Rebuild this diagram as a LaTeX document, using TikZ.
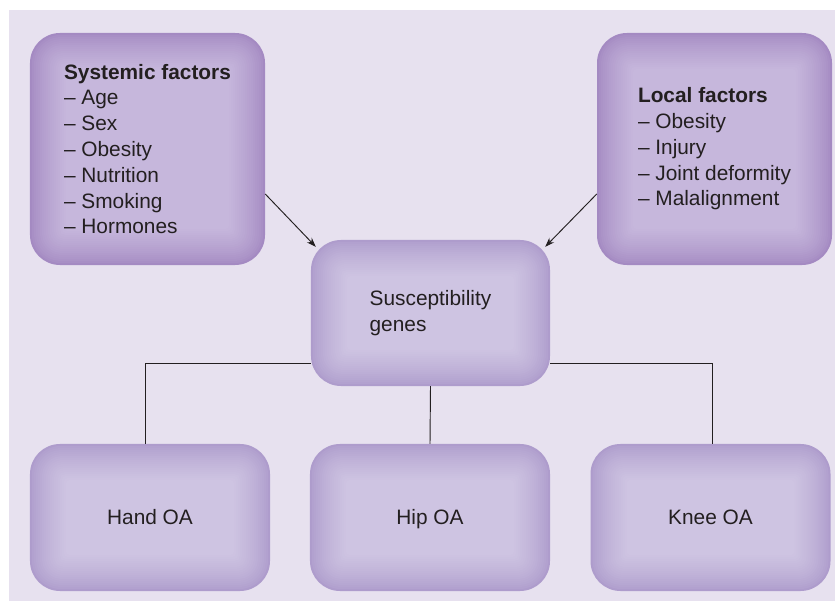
\documentclass[tikz,border=0pt]{standalone}
\usepackage{xcolor}
\usepackage{fontspec}
\setmainfont{Liberation Sans}
\usetikzlibrary{arrows.meta}

\definecolor{bgcol}{HTML}{E7E1EF}
\definecolor{darkin}{HTML}{C6B7DC}
\definecolor{darkout}{HTML}{A48AC2}
\definecolor{lightin}{HTML}{CEC4E2}
\definecolor{lightout}{HTML}{AE9CCC}
\definecolor{inkcol}{HTML}{231F20}

\begin{document}
\begin{tikzpicture}[x=0.03cm, y=-0.03cm,
    glow/.style 2 args={fill=#2, path picture={
      \foreach \k in {1,...,18}{
        \pgfmathsetmacro\mix{100*(\k/18)^0.75}
        \pgfmathsetmacro\rad{max(0.1,0.9-\k*0.05)}
        \fill[#1!\mix!#2, rounded corners=\rad cm]
          ([shift={(\k*0.06cm,\k*0.06cm)}]path picture bounding box.south west) rectangle
          ([shift={(-\k*0.06cm,-\k*0.06cm)}]path picture bounding box.north east);
      }}},
    box/.style={rounded corners=0.9cm, align=left, text=inkcol,
      font=\fontsize{17.8}{22}\selectfont},
    factorbox/.style={box, glow={darkin}{darkout}, minimum width=7.05cm, minimum height=6.96cm},
    oabox/.style={box, glow={lightin}{lightout}, minimum width=7.2cm, minimum height=4.41cm},
    sitebox/.style={oabox, text height=12.8pt, text depth=0pt},
    link/.style={draw=inkcol, line width=0.8pt}]
             \useasboundingbox (0,0) rectangle (835,601);
             \fill[bgcol] (9,10) rectangle (835,601);

             % risk factors
             \node[factorbox] (systemic) at (147.5,149) {\textbf{Systemic factors}\\– Age\\– Sex\\– Obesity\\– Nutrition\\– Smoking\\– Hormones};
             \node[factorbox] (local) at (714.5,149) {\textbf{Local factors}\\– Obesity\\– Injury\\– Joint deformity\\– Malalignment};

             \node[oabox, minimum width=7.17cm, minimum height=4.38cm] (genes) at (430.5,313) {Susceptibility\\genes};

             % sites
             \node[sitebox] (hand) at (150,517.5) {Hand OA};
             \node[sitebox] (hip) at (430,517.5) {Hip OA};
             \node[sitebox] (knee) at (710.5,517.5) {Knee OA};

             \draw[link, -{Stealth[length=2.8mm, width=2mm]}] ([yshift=-1.35cm]systemic.east) -- ([xshift=0.15cm, yshift=-0.21cm]genes.north west);
             \draw[link, -{Stealth[length=2.8mm, width=2mm]}] ([yshift=-1.35cm]local.west) -- ([xshift=-0.15cm, yshift=-0.21cm]genes.north east);

             \draw[link] ([yshift=-1.5cm]genes.west) -| ([xshift=-0.15cm]hand.north);
             \draw[link] (genes.south) -- (hip.north);
             \draw[link] ([yshift=-1.5cm]genes.east) -| ([xshift=0.05cm]knee.north);
             \end{tikzpicture}
\end{document}
